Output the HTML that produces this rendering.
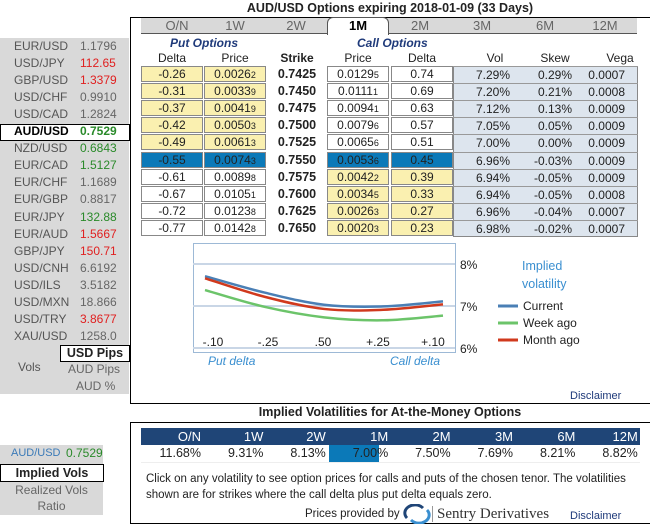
<!DOCTYPE html>
<html><head><meta charset="utf-8"><style>
*{box-sizing:border-box;margin:0;padding:0}
body{width:650px;height:525px;background:#fff;font-family:"Liberation Sans",Arial,sans-serif;font-size:12px;color:#222;position:relative;overflow:hidden}
.a{position:absolute}
.lp{background:#d9d9d9}
.pr{position:absolute;left:0;width:129px;height:17px;line-height:17px;color:#555;font-size:12px}
.pr span{position:absolute}
.cell{position:absolute;height:16px;line-height:15px;border:1px solid #888;text-align:center;font-size:12px}
.y{background:#faf0b0}
.w{background:#fff}
.b{background:#0b79b8}
.tab{position:absolute;top:18px;height:16px;line-height:16px;text-align:center;color:#666;font-size:13px}
.t{text-align:center}
small{font-size:9px}
</style></head><body>
<div class="a t" style="left:130px;width:520px;top:1px;font-weight:bold;font-size:12.5px;color:#222">AUD/USD Options expiring 2018-01-09 (33 Days)</div>

<div class="a lp" style="left:0;top:38px;width:129px;height:356px"></div>
<div class="a" style="left:0;top:124px;width:130px;height:17px;background:#fff;border:1px solid #000"></div>
<div id="pairs"></div>
<div class="a" style="left:60px;top:345px;width:70px;height:17px;background:#fff;border:1px solid #000;font-weight:bold;text-align:center;line-height:15px;font-size:12.5px">USD Pips</div>
<div class="a" style="left:18px;top:360px;color:#555">Vols</div>
<div class="a" style="left:68px;top:362px;color:#666">AUD Pips</div>
<div class="a" style="left:76px;top:379px;color:#666">AUD %</div>

<div class="a" style="left:130px;top:17px;width:520px;height:387px;border:1px solid #000;border-right:none"></div>
<div class="a" style="left:141px;top:18px;width:496px;height:16px;background:#d9d9d9;border-bottom:1px solid #555"></div>
<div class="a" style="left:327px;top:17px;width:62px;height:18px;background:#fff;border:1px solid #555;border-bottom:none;border-radius:6px 6px 0 0"></div>
<div class="tab" style="left:147px;width:60px">O/N</div>
<div class="tab" style="left:205px;width:60px">1W</div>
<div class="tab" style="left:266px;width:60px">2W</div>
<div class="tab" style="left:327px;width:62px;color:#000;font-weight:bold">1M</div>
<div class="tab" style="left:390px;width:60px">2M</div>
<div class="tab" style="left:452px;width:60px">3M</div>
<div class="tab" style="left:515px;width:60px">6M</div>
<div class="tab" style="left:575px;width:60px">12M</div>

<div class="a" style="left:170px;top:36px;font-weight:bold;font-style:italic;color:#1f3a7a">Put Options</div>
<div class="a" style="left:357px;top:36px;font-weight:bold;font-style:italic;color:#1f3a7a">Call Options</div>
<div class="a t" style="left:141px;width:62px;top:51px">Delta</div>
<div class="a t" style="left:204px;width:62px;top:51px">Price</div>
<div class="a t" style="left:266px;width:62px;top:51px;font-weight:bold">Strike</div>
<div class="a t" style="left:327px;width:62px;top:51px">Price</div>
<div class="a t" style="left:391px;width:62px;top:51px">Delta</div>
<div class="a t" style="left:470px;width:50px;top:51px">Vol</div>
<div class="a t" style="left:525px;width:60px;top:51px">Skew</div>
<div class="a t" style="left:590px;width:60px;top:51px">Vega</div>
<div class="a" style="left:453px;top:66px;width:185px;height:171px;background:#dde5ee;border:1px solid #888"></div>
<div id="rows"></div>

<svg class="a" style="left:130px;top:236px" width="520" height="170" id="chart"></svg>
<div class="a" style="left:570px;top:390px;color:#1f3a7a;font-size:11px">Disclaimer</div>

<div class="a t" style="left:130px;width:520px;top:405px;font-weight:bold;font-size:12.5px">Implied Volatilities for At-the-Money Options</div>
<div class="a" style="left:130px;top:422px;width:520px;height:102px;border:1px solid #000;border-right:none"></div>
<div class="a" style="left:141px;top:428px;width:499px;height:17px;background:#1f4577"></div>
<div class="a" style="left:141px;top:462px;width:499px;height:1px;background:#eee"></div>
<div id="atm"></div>
<div class="a lp" style="left:0;top:445px;width:103px;height:70px"></div>
<div class="a" style="left:11px;top:447px;color:#3a7ab8;font-size:11px">AUD/USD</div>
<div class="a" style="left:66px;top:446px;color:#2a8a2a;font-size:12px">0.7529</div>
<div class="a t" style="left:0;top:464px;width:104px;height:18px;background:#fff;border:1px solid #000;font-weight:bold;line-height:16px;font-size:12.5px">Implied Vols</div>
<div class="a t" style="left:0;top:483px;width:103px;color:#666">Realized Vols</div>
<div class="a t" style="left:0;top:499px;width:103px;color:#666">Ratio</div>
<div class="a" style="left:146px;top:471px;width:490px;line-height:16px;font-size:11.5px">Click on any volatility to see option prices for calls and puts of the chosen tenor. The volatilities shown are for strikes where the call delta plus put delta equals zero.</div>
<div class="a" style="left:305px;top:508px;font-size:11.5px">Prices provided by</div>
<svg class="a" style="left:403px;top:504px" width="28" height="20"><path d="M4 14 A10 8 0 0 1 20 4" stroke="#1f4577" stroke-width="3" fill="none"/><path d="M24 6 A10 8 0 0 1 8 16" stroke="#3a8fd0" stroke-width="3" fill="none"/></svg>
<div class="a" style="left:432px;top:506px;height:16px;border-left:1px solid #999;padding-left:4px;font-family:'Liberation Serif',serif;font-size:15px;color:#333">Sentry Derivatives</div>
<div class="a" style="left:570px;top:510px;color:#1f3a7a;font-size:11px">Disclaimer</div>

<script>
const pairs=["EUR/USD","USD/JPY","GBP/USD","USD/CHF","USD/CAD","AUD/USD","NZD/USD","EUR/CAD","EUR/CHF","EUR/GBP","EUR/JPY","EUR/AUD","GBP/JPY","USD/CNH","USD/ILS","USD/MXN","USD/TRY","XAU/USD"];
const quotes=["1.1796","112.65","1.3379","0.9910","1.2824","0.7529","0.6843","1.5127","1.1689","0.8817","132.88","1.5667","150.71","6.6192","3.5182","18.866","3.8677","1258.0"];
const qcol=["#666","#e02020","#e02020","#666","#666","#2a8a2a","#2a8a2a","#2a8a2a","#666","#666","#2a8a2a","#e02020","#e02020","#666","#666","#666","#e02020","#666"];
let h='';
pairs.forEach((p,i)=>{const y=38+i*17.05;const sel=i===5;
h+=`<div class="pr" style="top:${y}px;z-index:2;${sel?'color:#000;font-weight:bold':''}"><span style="left:14px">${p}</span><span style="left:80px;color:${qcol[i]}">${quotes[i]}</span></div>`;});
document.getElementById('pairs').innerHTML=h;

const putDelta=["-0.26","-0.31","-0.37","-0.42","-0.49","-0.55","-0.61","-0.67","-0.72","-0.77"];
const putPrice=["0.0026|2","0.0033|9","0.0041|9","0.0050|3","0.0061|3","0.0074|3","0.0089|8","0.0105|1","0.0123|8","0.0142|8"];
const strikes=["0.7425","0.7450","0.7475","0.7500","0.7525","0.7550","0.7575","0.7600","0.7625","0.7650"];
const callPrice=["0.0129|5","0.0111|1","0.0094|1","0.0079|6","0.0065|6","0.0053|6","0.0042|2","0.0034|5","0.0026|3","0.0020|3"];
const callDelta=["0.74","0.69","0.63","0.57","0.51","0.45","0.39","0.33","0.27","0.23"];
const vols=["7.29%","7.20%","7.12%","7.05%","7.00%","6.96%","6.94%","6.94%","6.96%","6.98%"];
const skews=["0.29%","0.21%","0.13%","0.05%","0.00%","-0.03%","-0.05%","-0.05%","-0.04%","-0.02%"];
const vegas=["0.0007","0.0008","0.0009","0.0009","0.0009","0.0009","0.0009","0.0008","0.0007","0.0007"];
const pp=s=>{const[a,b]=s.split('|');return a+'<small>'+b+'</small>';};
h='';
for(let i=0;i<10;i++){const y=66+i*17.1;
const pc=i<5?'y':(i===5?'b':'w'), cc=i<5?'w':(i===5?'b':'y');
h+=`<div class="cell ${pc}" style="left:141px;top:${y}px;width:62px">${putDelta[i]}</div>`;
h+=`<div class="cell ${pc}" style="left:204px;top:${y}px;width:62px">${pp(putPrice[i])}</div>`;
h+=`<div class="a t" style="left:266px;top:${y+1}px;width:62px;font-weight:bold;font-size:12.5px">${strikes[i]}</div>`;
h+=`<div class="cell ${cc}" style="left:327px;top:${y}px;width:62px">${pp(callPrice[i])}</div>`;
h+=`<div class="cell ${cc}" style="left:391px;top:${y}px;width:62px">${callDelta[i]}</div>`;
h+=`<div class="a" style="left:453px;top:${y}px;width:185px;height:17px;border-top:1px solid #999;line-height:16px"><span class="a" style="right:128px">${vols[i]}</span><span class="a" style="right:66px">${skews[i]}</span><span class="a" style="right:13px">${vegas[i]}</span></div>`;}
document.getElementById('rows').innerHTML=h;

const tenors=["O/N","1W","2W","1M","2M","3M","6M","12M"];
const atmVols=["11.68%","9.31%","8.13%","7.00%","7.50%","7.69%","8.21%","8.82%"];
h='';
tenors.forEach((t,i)=>{const x=141+i*62.4;
if(i===3)h+=`<div class="a b" style="left:${x+1}px;top:445px;width:50px;height:17px"></div>`;
h+=`<div class="a" style="left:${x}px;top:429px;width:62px;text-align:right;padding-right:2px;color:#fff;font-size:13px">${t}</div>`;
h+=`<div class="a" style="left:${x}px;top:446px;width:62px;text-align:right;padding-right:2px;font-size:12.5px">${atmVols[i]}</div>`;});
document.getElementById('atm').innerHTML=h;

const deltaLabels=["-.10","-.25",".50","+.25","+.10"];
const currentVol=[7.71,7.32,7.03,6.99,7.11];
const weekVol=[7.38,6.98,6.73,6.66,6.77];
const monthVol=[7.66,7.22,6.93,6.91,7.04];
const yTicks=[8,7,6];
const svg=document.getElementById('chart');const NS='http://www.w3.org/2000/svg';
const ox=130,oy=236;
const X=i=>205-ox+i*59.5;
const Y=v=>306-oy-(v-7)*42;
function el(tag,attrs,txt){const e=document.createElementNS(NS,tag);for(const k in attrs)e.setAttribute(k,attrs[k]);if(txt!==undefined)e.textContent=txt;svg.appendChild(e);return e;}
let e=el('rect',{x:193-ox+.5,y:243-oy+.5,width:262,height:109,fill:'#fff',stroke:'#9db9d6'});


yTicks.forEach(v=>{e=el('line',{x1:193-ox,x2:455-ox,y1:Y(v),y2:Y(v),stroke:'#c9d6e6','stroke-width':2});


e=el('text',{x:460-ox,y:Y(v)+5,'font-size':12,fill:'#222'},v+'%');

});
deltaLabels.forEach((l,i)=>{e=el('text',{x:205-ox+i*55+8,y:346-oy,'font-size':12,'text-anchor':'middle',fill:'#222'},l);

});
function path(vals){const p=vals.map((v,i)=>[X(i),Y(v)]);let d=`M${p[0][0]},${p[0][1]}`;
for(let i=0;i<p.length-1;i++){const p0=p[i-1]||p[i],p1=p[i],p2=p[i+1],p3=p[i+2]||p2;
d+=` C${p1[0]+(p2[0]-p0[0])/6},${p1[1]+(p2[1]-p0[1])/6} ${p2[0]-(p3[0]-p1[0])/6},${p2[1]-(p3[1]-p1[1])/6} ${p2[0]},${p2[1]}`;}return d;}
[[weekVol,'#6cc46a','week-ago-line'],[currentVol,'#4a7fb5','current-line'],[monthVol,'#d0391d','month-ago-line']].forEach(([v,c,n])=>{
e=el('path',{d:path(v),stroke:c,'stroke-width':2.5,fill:'none'});

});
e=el('text',{x:208-ox,y:365-oy,'font-size':12,'font-style':'italic',fill:'#3a8fd0'},'Put delta');


e=el('text',{x:390-ox,y:365-oy,'font-size':12,'font-style':'italic',fill:'#3a8fd0'},'Call delta');


e=el('text',{x:522-ox,y:270-oy,'font-size':12.5,fill:'#3a8fd0'},'Implied');


e=el('text',{x:522-ox,y:288-oy,'font-size':12.5,fill:'#3a8fd0'},'volatility');


[['Current','#4a7fb5',306],['Week ago','#6cc46a',323],['Month ago','#d0391d',340]].forEach(([t,c,y])=>{
e=el('line',{x1:498-ox,x2:518-ox,y1:y-oy,y2:y-oy,stroke:c,'stroke-width':3});


e=el('text',{x:523-ox,y:y+4-oy,'font-size':12,fill:'#222'},t);

});
</script>
</body></html>
